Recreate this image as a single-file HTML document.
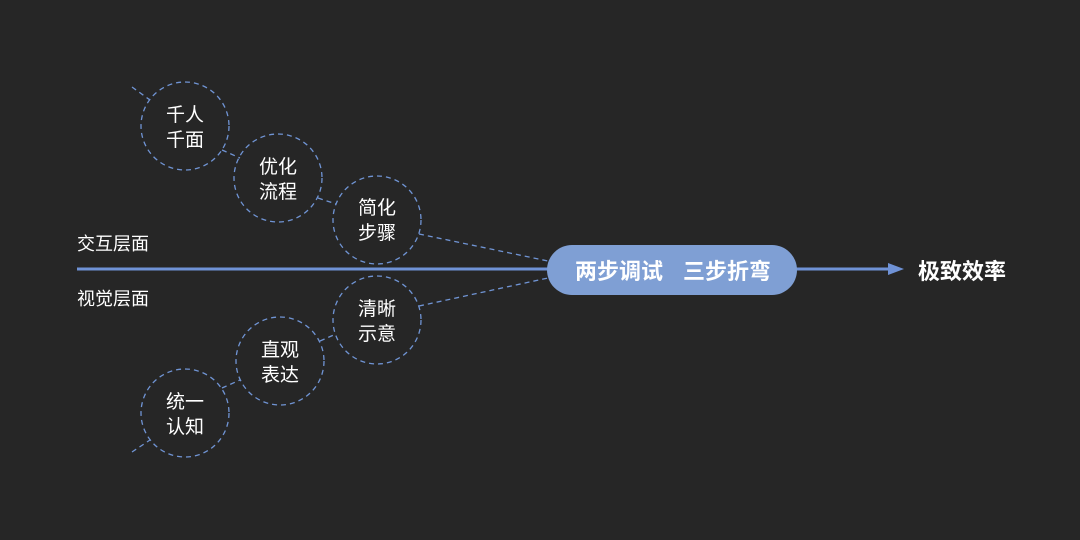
<!DOCTYPE html>
<html><head><meta charset="utf-8"><style>
body{margin:0;background:#262626;}
svg{display:block}
text{font-family:"Liberation Sans","Noto Sans CJK SC",sans-serif;fill:#fff}
</style></head><body>
<svg width="1080" height="540" viewBox="0 0 1080 540">
<rect width="1080" height="540" fill="#262626"/>
<line x1="77" y1="269" x2="895" y2="269" stroke="#6f92d6" stroke-width="3"/>
<polygon points="888,263 904,269 888,275" fill="#6f92d6"/>
<g stroke="#7094d4" stroke-width="1.3" stroke-dasharray="5,4" fill="none">
<line x1="132" y1="87" x2="150" y2="100"/>
<line x1="222" y1="150" x2="240" y2="158"/>
<line x1="318" y1="198" x2="336" y2="204"/>
<line x1="419" y1="234" x2="548" y2="261"/>
<line x1="419" y1="306" x2="548" y2="278"/>
<line x1="320" y1="341" x2="336" y2="334"/>
<line x1="222" y1="388" x2="240" y2="380"/>
<line x1="132" y1="452" x2="150" y2="440"/>
<circle cx="185" cy="126" r="44"/>
<circle cx="278" cy="178" r="44"/>
<circle cx="377" cy="220" r="44"/>
<circle cx="377" cy="320" r="44"/>
<circle cx="280" cy="361" r="44"/>
<circle cx="185" cy="413" r="44"/>
</g>
<g font-size="19" text-anchor="middle">
<text x="185" y="121">千人</text><text x="185" y="146">千面</text>
<text x="278" y="173">优化</text><text x="278" y="198">流程</text>
<text x="377" y="214">简化</text><text x="377" y="239">步骤</text>
<text x="377" y="315">清晰</text><text x="377" y="340">示意</text>
<text x="280" y="356">直观</text><text x="280" y="381">表达</text>
<text x="185" y="408">统一</text><text x="185" y="433">认知</text>
</g>
<text x="77" y="250" font-size="18">交互层面</text>
<text x="77" y="305" font-size="18">视觉层面</text>
<rect x="547" y="245" width="250" height="50" rx="25" fill="#7f9fd4"/>
<text x="575" y="279" font-size="22" font-weight="bold">两步调试</text>
<text x="683" y="279" font-size="22" font-weight="bold">三步折弯</text>
<text x="918" y="279" font-size="22" font-weight="bold">极致效率</text>
</svg>
</body></html>
